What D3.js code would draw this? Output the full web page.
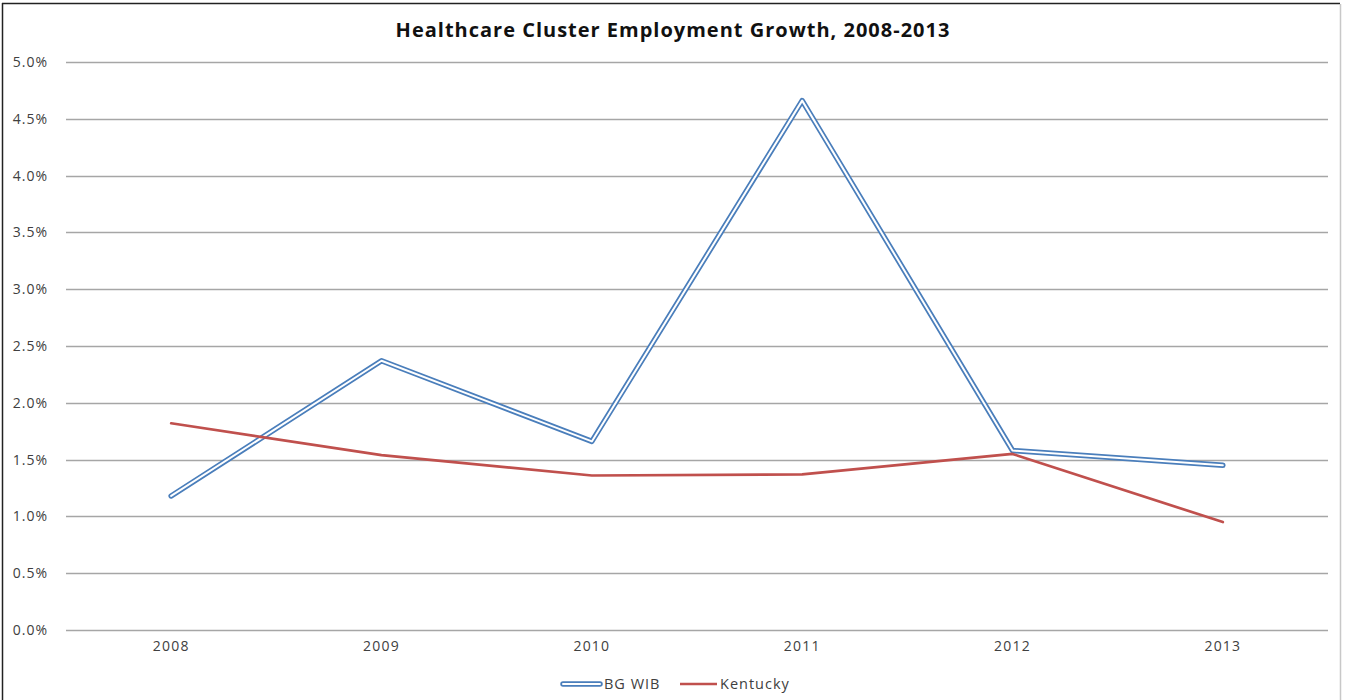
<!DOCTYPE html>
<html>
<head>
<meta charset="utf-8">
<script src="https://cdn.jsdelivr.net/npm/d3@7"></script>
<style>
  html, body { margin: 0; padding: 0; background: #fff; }
  svg { display: block; font-family: "Open Sans", Lato, sans-serif; }
</style>
</head>
<body>
<svg id="chart" width="1346" height="700"></svg>
<script>
// Healthcare cluster employment growth, year over year
const years = ["2008", "2009", "2010", "2011", "2012", "2013"];
const bgWib = [0.0118, 0.0237, 0.0166, 0.0466, 0.0158, 0.0145];
const kentucky = [0.0182, 0.0154, 0.0136, 0.0137, 0.0155, 0.0095];
const yTicks = [0, 0.005, 0.01, 0.015, 0.02, 0.025, 0.03, 0.035, 0.04, 0.045, 0.05];

const svg = d3.select("#chart");
const W = 1346, H = 700;
const FONT = "'Open Sans', Lato, sans-serif";

// outer frame
svg.append("line").attr("x1", 2.5).attr("x2", 2.5).attr("y1", 3).attr("y2", H)
  .attr("stroke", "#222").attr("stroke-width", 1.5);
svg.append("line").attr("x1", 2).attr("x2", 1340).attr("y1", 3.5).attr("y2", 3.5)
  .attr("stroke", "#222").attr("stroke-width", 1.5);
svg.append("line").attr("x1", 1340.5).attr("x2", 1340.5).attr("y1", 4).attr("y2", H)
  .attr("stroke", "#c8c8c8").attr("stroke-width", 1.5);

const x = d3.scaleBand().domain(years).range([66, 1328]);
const y = d3.scaleLinear().domain([0, 0.05]).range([630, 62]);

// gridlines
svg.append("g").selectAll("line").data(yTicks).join("line")
  .attr("x1", 66).attr("x2", 1328)
  .attr("y1", d => Math.round(y(d)) + 0.5).attr("y2", d => Math.round(y(d)) + 0.5)
  .attr("stroke", "#a6a6a6").attr("stroke-width", 1.3);

// y axis labels
const yAxis = d3.axisLeft(y).tickValues(yTicks).tickFormat(d3.format(".1%")).tickSize(0).tickPadding(0);
const gy = svg.append("g").attr("transform", "translate(48,0)").call(yAxis);
gy.select(".domain").remove();
gy.selectAll("text").attr("font-size", 14).attr("letter-spacing", 1).attr("fill", "#404040")
  .attr("font-family", FONT);

// x axis labels
const xAxis = d3.axisBottom(x).tickSize(0).tickPadding(0);
const gx = svg.append("g").attr("transform", "translate(0,641)").call(xAxis);
gx.select(".domain").remove();
gx.selectAll("text").attr("font-size", 14).attr("letter-spacing", 1.2).attr("fill", "#404040")
  .attr("font-family", FONT);

// title
svg.append("text").attr("x", 673).attr("y", 37).attr("text-anchor", "middle")
  .attr("font-size", 20).attr("letter-spacing", 1).attr("font-weight", "bold").attr("fill", "#111")
  .attr("font-family", FONT)
  .text("Healthcare Cluster Employment Growth, 2008-2013");

const cx = d => x(d) + x.bandwidth() / 2;
const line = d3.line().x(d => cx(d[0])).y(d => y(d[1]));

const blueData = years.map((yr, i) => [yr, bgWib[i]]);
const redData = years.map((yr, i) => [yr, kentucky[i]]);

// BG WIB: hollow double line
svg.append("path").datum(blueData).attr("d", line).attr("fill", "none")
  .attr("stroke", "#4a7ebb").attr("stroke-width", 5.5)
  .attr("stroke-linejoin", "round").attr("stroke-linecap", "round");
svg.append("path").datum(blueData).attr("d", line).attr("fill", "none")
  .attr("stroke", "#fff").attr("stroke-width", 2)
  .attr("stroke-linejoin", "round").attr("stroke-linecap", "round");

// Kentucky: solid red line
svg.append("path").datum(redData).attr("d", line).attr("fill", "none")
  .attr("stroke", "#c0504d").attr("stroke-width", 2.7)
  .attr("stroke-linejoin", "round").attr("stroke-linecap", "round");

// legend
const lg = svg.append("g").attr("font-family", FONT).attr("font-size", 14.5)
  .attr("letter-spacing", 1).attr("fill", "#404040");
lg.append("line").attr("x1", 563).attr("x2", 600).attr("y1", 684).attr("y2", 684)
  .attr("stroke", "#4a7ebb").attr("stroke-width", 5.5).attr("stroke-linecap", "round");
lg.append("line").attr("x1", 563).attr("x2", 600).attr("y1", 684).attr("y2", 684)
  .attr("stroke", "#fff").attr("stroke-width", 2).attr("stroke-linecap", "round");
lg.append("text").attr("x", 604).attr("y", 689).text("BG WIB");
lg.append("line").attr("x1", 680).attr("x2", 717).attr("y1", 684).attr("y2", 684)
  .attr("stroke", "#c0504d").attr("stroke-width", 2.7);
lg.append("text").attr("x", 720).attr("y", 689).text("Kentucky");
</script>
</body>
</html>
